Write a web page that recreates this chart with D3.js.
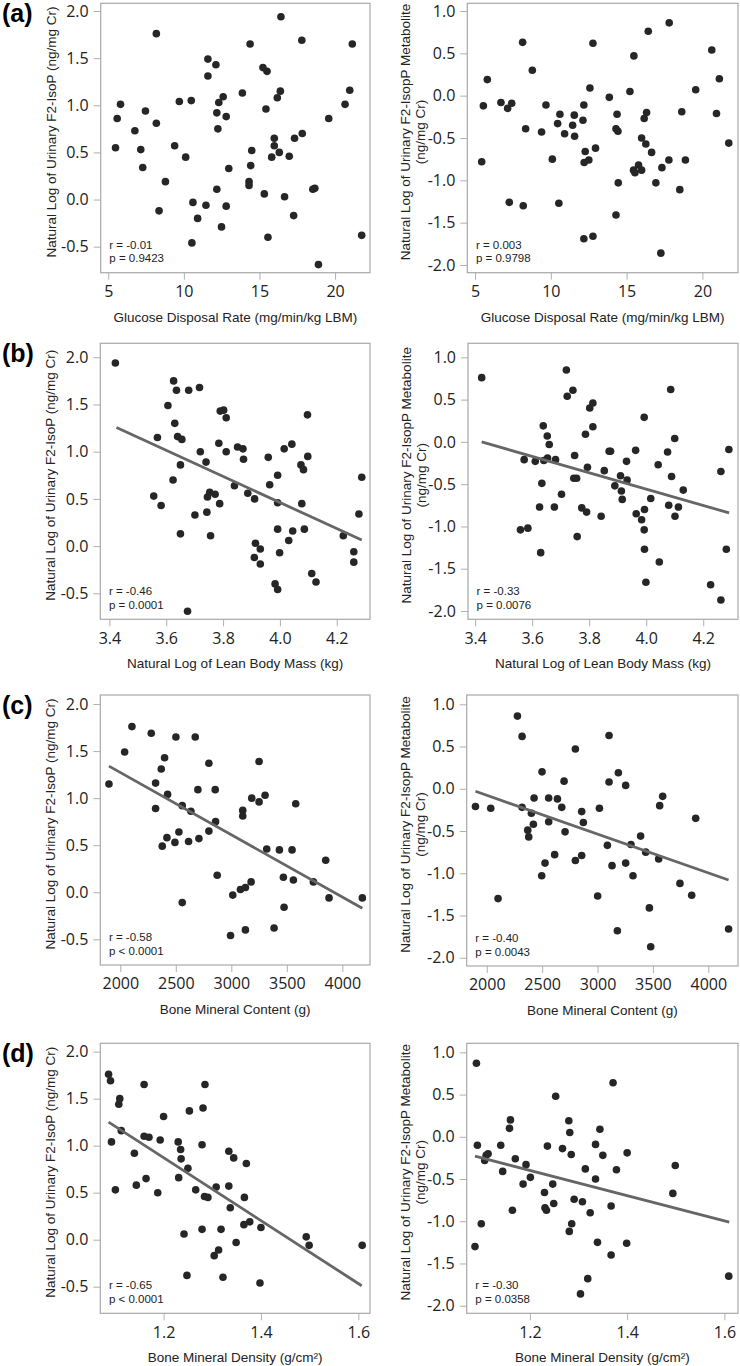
<!DOCTYPE html>
<html><head><meta charset="utf-8">
<script src="https://cdn.jsdelivr.net/npm/d3@7"></script>
<style>body{margin:0;background:#fff}</style>
</head><body><svg id="c" width="740" height="1366"></svg>
<script>
// ---------------- DATA ----------------
const rowLabels = ["(a)", "(b)", "(c)", "(d)"];
const yTitleLeft = "Natural Log of Urinary F2-IsoP (ng/mg Cr)";
const yTitleRight = ["Natural Log of Urinary F2-IsopP Metabolite", "(ng/mg Cr)"];
const xTitles = ["Glucose Disposal Rate (mg/min/kg LBM)", "Natural Log of Lean Body Mass (kg)", "Bone Mineral Content (g)", "Bone Mineral Density (g/cm\u00B2)"];
const yTicksLeft = [-0.5, 0, 0.5, 1.0, 1.5, 2.0];
const yTicksRight = [-2.0, -1.5, -1.0, -0.5, 0, 0.5, 1.0];
const xTicksA = [5, 10, 15, 20];
const xTicksB = [3.4, 3.6, 3.8, 4.0, 4.2];
const xTicksC = [2000, 2500, 3000, 3500, 4000];
const xTicksD = [1.2, 1.4, 1.6];
const statsText = [
  ["r = -0.01", "p = 0.9423"], ["r = 0.003", "p = 0.9798"],
  ["r = -0.46", "p = 0.0001"], ["r = -0.33", "p = 0.0076"],
  ["r = -0.58", "p < 0.0001"], ["r = -0.40", "p = 0.0043"],
  ["r = -0.65", "p < 0.0001"], ["r = -0.30", "p = 0.0358"]
];

// (a) left: glucose disposal vs F2-IsoP
const aL_x = [5.48,5.59,5.81,6.76,7.15,7.28,7.46,8.18,8.18,8.36,8.78,9.39,9.70,10.12,10.49,10.60,10.53,10.91,11.46,11.59,11.59,12.12,12.18,12.25,12.31,12.18,12.49,12.60,12.80,12.80,12.97,13.87,14.38,14.31,14.31,14.42,14.49,15.23,15.50,15.43,15.32,15.56,15.81,15.98,15.98,16.18,16.31,16.38,16.42,16.66,16.97,17.26,17.32,17.80,17.83,18.53,18.66,18.90,19.58,20.66,20.97,21.14,21.76];
const aL_y = [0.55,0.86,1.01,0.73,0.53,0.34,0.94,1.76,0.81,-0.12,0.19,0.57,1.04,0.45,1.05,-0.03,-0.46,-0.20,-0.06,1.49,1.31,1.43,0.92,0.75,1.03,0.11,-0.29,1.09,0.88,-0.07,0.33,1.13,1.65,0.19,0.15,0.36,0.52,1.40,1.36,0.96,0.06,-0.40,0.45,0.65,0.57,1.08,0.50,1.15,1.94,0.03,0.46,-0.17,0.65,1.69,0.70,0.11,0.12,-0.69,0.86,1.01,1.16,1.65,-0.38];
// (a) right: glucose disposal vs metabolite
const aR_x = [5.44,5.55,5.81,6.71,7.15,7.42,7.26,8.14,8.18,8.34,8.78,9.39,9.68,10.10,10.45,10.60,10.53,10.91,11.44,11.55,11.57,12.12,12.18,12.27,12.20,12.51,12.18,12.58,12.78,12.78,12.95,13.86,14.30,14.30,14.37,14.43,14.45,15.22,15.48,15.46,15.55,15.79,15.99,15.99,16.16,16.32,16.27,16.43,16.65,16.93,17.33,17.26,17.79,17.81,18.51,18.64,18.88,19.56,20.62,20.93,21.12,21.74];
const aR_y = [-0.78,-0.12,0.19,-0.08,-0.15,-0.09,-1.26,0.63,-1.30,-0.39,0.30,-0.43,-0.11,-0.75,-0.33,-0.22,-1.27,-0.45,-0.35,-0.23,-0.48,-0.29,-0.11,-0.66,-0.79,-0.76,-1.69,0.09,0.62,-1.66,-0.62,-0.02,-1.41,-0.39,-0.22,-0.42,-1.03,0.05,0.47,-0.88,-0.91,-0.82,-0.50,-0.88,-0.27,-0.20,-0.57,0.76,-0.67,-1.03,-0.85,-1.86,-0.76,0.86,-1.11,-0.19,-0.76,0.07,0.54,-0.21,0.20,-0.56];
// (b) left: ln lean body mass vs F2-IsoP
const bL_x = [3.421,3.556,3.569,3.582,3.606,3.624,3.626,3.630,3.636,3.640,3.655,3.650,3.650,3.679,3.675,3.701,3.717,3.720,3.740,3.743,3.745,3.753,3.756,3.772,3.788,3.785,3.790,3.802,3.811,3.811,3.840,3.851,3.870,3.872,3.887,3.911,3.910,3.914,3.931,3.931,3.959,3.964,3.983,3.992,3.992,3.992,3.992,3.999,4.015,4.031,4.042,4.045,4.074,4.077,4.083,4.086,4.097,4.098,4.112,4.127,4.223,4.260,4.260,4.278,4.288];
const bL_y = [1.94,0.53,1.15,0.43,1.49,0.70,1.75,1.30,1.65,1.16,1.13,0.86,0.13,1.65,-0.69,0.33,1.68,1.00,0.89,0.36,0.52,0.57,0.11,0.55,0.45,1.09,1.43,1.44,1.36,1.00,0.64,1.05,1.03,0.92,0.56,0.50,-0.12,0.03,-0.03,-0.19,0.94,0.65,-0.40,0.75,0.46,0.18,-0.46,-0.07,1.03,0.06,1.08,0.16,0.86,0.45,0.81,0.18,1.39,0.95,-0.29,-0.38,0.11,-0.06,-0.17,0.34,0.73];
const bL_fit = [[3.425, 1.257], [4.288, 0.064]];
// (b) right: ln lean body mass vs metabolite
const bR_x = [3.423,3.559,3.572,3.585,3.611,3.626,3.634,3.630,3.639,3.641,3.653,3.654,3.660,3.678,3.682,3.703,3.720,3.723,3.743,3.749,3.746,3.756,3.758,3.774,3.787,3.791,3.794,3.802,3.813,3.813,3.842,3.853,3.870,3.875,3.890,3.910,3.913,3.916,3.931,3.933,3.963,3.965,3.984,3.993,3.994,3.993,3.994,3.999,4.016,4.042,4.046,4.075,4.079,4.086,4.089,4.100,4.101,4.113,4.130,4.226,4.262,4.262,4.281,4.290];
const bR_y = [0.76,-1.04,-0.21,-1.02,-0.23,-0.77,-0.49,-1.31,0.19,-0.22,0.07,-0.19,-0.03,-0.77,-0.21,-0.62,0.85,0.54,0.61,-0.16,-0.43,-0.43,-1.12,-0.78,0.09,-0.83,-0.30,0.40,0.46,0.18,-0.88,-0.34,-0.11,-0.11,-0.52,-0.40,-0.58,-0.68,-0.23,-0.45,-0.10,-0.85,-0.92,0.29,-0.80,-1.04,-1.27,-1.66,-0.67,-0.27,-1.42,-0.12,-0.75,0.62,-0.41,0.04,-0.88,-0.77,-0.57,-1.69,-0.35,-1.87,-1.27,-0.09];
const bR_fit = [[3.423, 0.00], [4.291, -0.84]];
// (c) left: bone mineral content vs F2-IsoP
const cL_x = [1898,2039,2105,2279,2318,2318,2369,2399,2378,2426,2420,2492,2501,2528,2558,2558,2615,2636,2675,2699,2708,2798,2798,2855,2858,2873,2993,3013,3082,3103,3103,3127,3127,3178,3184,3250,3250,3304,3319,3433,3469,3475,3385,3547,3559,3580,3739,3850,3880,4180];
const cL_y = [1.15,1.49,1.76,1.69,1.16,0.89,1.31,1.43,0.49,1.04,0.58,0.53,1.65,0.64,0.92,-0.11,0.54,0.86,1.65,1.09,0.57,1.37,0.65,1.09,0.75,0.18,-0.46,-0.03,0.03,0.87,0.81,0.05,-0.40,0.11,1.00,1.39,0.96,1.03,0.46,0.45,0.16,-0.16,-0.38,0.45,0.13,0.94,0.11,0.34,-0.06,-0.06];
const cL_fit = [[1898, 1.34], [4180, -0.17]];
// (c) right: bone mineral content vs metabolite
const cR_x = [1898,2036,2102,2277,2319,2319,2370,2379,2403,2421,2427,2499,2496,2526,2559,2559,2613,2638,2677,2698,2707,2800,2800,2857,2857,2872,3001,3017,3089,3104,3104,3131,3188,3179,3254,3254,3302,3320,3389,3435,3468,3480,3552,3561,3588,3744,3850,3886,4183];
const cR_y = [-0.21,-0.23,-1.30,0.86,0.62,-0.22,-0.49,-0.57,-0.29,-0.42,-0.11,0.20,-1.03,-0.88,-0.11,-0.39,-0.78,-0.12,-0.22,0.09,-0.51,0.47,-0.85,-0.27,-0.79,-0.40,-1.27,-0.23,-0.67,0.63,0.08,-0.91,0.19,-1.68,0.04,-0.88,-0.66,-1.03,-0.56,-0.75,-1.41,-1.87,-0.83,-0.20,-0.09,-1.12,-1.26,-0.35,-1.66];
const cR_fit = [[1898, -0.03], [4183, -1.08]];
// (d) left: bone mineral density vs F2-IsoP
const dL_x = [1.087,1.091,1.093,1.101,1.108,1.110,1.113,1.140,1.144,1.160,1.160,1.164,1.170,1.188,1.193,1.200,1.230,1.231,1.235,1.236,1.242,1.248,1.250,1.253,1.266,1.279,1.279,1.281,1.284,1.285,1.291,1.304,1.308,1.313,1.318,1.322,1.334,1.334,1.337,1.344,1.349,1.365,1.366,1.370,1.377,1.400,1.398,1.493,1.499,1.608];
const dL_y = [1.76,1.69,1.04,0.53,1.44,1.50,1.16,0.92,0.58,1.65,1.10,0.65,1.09,0.50,1.06,1.31,1.04,0.66,0.96,0.86,0.06,-0.38,0.76,1.37,0.53,1.01,0.11,1.40,0.46,1.65,0.45,-0.17,0.56,-0.11,0.11,-0.40,0.94,0.57,0.34,0.87,-0.03,0.16,0.45,0.81,0.19,0.13,-0.46,0.03,-0.06,-0.06];
const dL_fit = [[1.087, 1.25], [1.607, -0.49]];
// (d) right: bone mineral density vs metabolite
const dR_x = [1.090,1.092,1.087,1.100,1.107,1.110,1.114,1.140,1.144,1.160,1.158,1.164,1.170,1.186,1.192,1.201,1.230,1.231,1.234,1.236,1.247,1.249,1.253,1.267,1.280,1.281,1.282,1.285,1.286,1.291,1.304,1.308,1.314,1.319,1.324,1.335,1.335,1.339,1.344,1.350,1.367,1.367,1.371,1.378,1.399,1.400,1.494,1.499,1.609];
const dR_y = [0.87,-0.10,-1.30,-1.03,-0.28,-0.22,-0.20,-0.10,-0.41,0.20,0.10,-0.87,-0.26,-0.56,-0.33,-0.48,-0.66,-0.84,-0.87,-0.11,-0.56,-0.79,0.48,-0.14,0.19,-1.12,0.05,-0.21,-1.03,-0.74,-1.86,-0.77,-0.38,-1.68,-0.90,-0.09,-0.50,-1.25,0.09,-0.22,-0.82,-1.40,0.64,-0.39,-1.26,-0.19,-0.67,-0.34,-1.65];
const dR_fit = [[1.087, -0.23], [1.610, -1.01]];

// ---------------- LAYOUT ----------------
const fmt1 = v => v.toFixed(1).replace("\u2212", "-");
const fmt0 = v => String(v);
const panels = [
  {row:0, side:"L", box:[100.7,370,3.3,272.7], xd:[4.50,22.31], yd:[-0.776,2.082], xt:xTicksA, xf:fmt0, xs:aL_x, ys:aL_y, fit:null},
  {row:0, side:"R", box:[467.3,738,3.3,272.7], xd:[4.49,22.35], yd:[-2.091,1.091], xt:xTicksA, xf:fmt0, xs:aR_x, ys:aR_y, fit:null},
  {row:1, side:"L", box:[100.3,370,343.3,619.3], xd:[3.368,4.317], yd:[-0.775,2.148], xt:xTicksB, xf:fmt1, xs:bL_x, ys:bL_y, fit:bL_fit},
  {row:1, side:"R", box:[468,738,343.3,619.3], xd:[3.375,4.322], yd:[-2.098,1.166], xt:xTicksB, xf:fmt1, xs:bR_x, ys:bR_y, fit:bR_fit},
  {row:2, side:"L", box:[100.3,370,695,965], xd:[1820,4249], yd:[-0.773,2.096], xt:xTicksC, xf:fmt0, xs:cL_x, ys:cL_y, fit:cL_fit},
  {row:2, side:"R", box:[466.7,738,695,966], xd:[1819,4268], yd:[-2.098,1.110], xt:xTicksC, xf:fmt0, xs:cR_x, ys:cR_y, fit:cR_fit},
  {row:3, side:"L", box:[100.3,370,1043.3,1313.3], xd:[1.070,1.624], yd:[-0.783,2.089], xt:xTicksD, xf:fmt1, xs:dL_x, ys:dL_y, fit:dL_fit},
  {row:3, side:"R", box:[466.7,738,1043.3,1313.3], xd:[1.070,1.628], yd:[-2.090,1.107], xt:xTicksD, xf:fmt1, xs:dR_x, ys:dR_y, fit:dR_fit}
];

const svg = d3.select("#c");
const TICKFONT = "'Open Sans', 'DejaVu Sans', sans-serif";
const TITLEFONT = "'Liberation Sans', Arial, sans-serif";

panels.forEach((p, i) => {
  const [x0, x1, y0, y1] = p.box;
  const x = d3.scaleLinear().domain(p.xd).range([x0, x1]);
  const y = d3.scaleLinear().domain(p.yd).range([y1, y0]);
  const g = svg.append("g");
  const yt = p.side === "L" ? yTicksLeft : yTicksRight;

  // axes
  const ax = g.append("g").attr("transform", `translate(0,${y1})`)
    .call(d3.axisBottom(x).tickValues(p.xt).tickFormat(p.xf).tickSize(7).tickPadding(6));
  const ay = g.append("g").attr("transform", `translate(${x0},0)`)
    .call(d3.axisLeft(y).tickValues(yt).tickFormat(fmt1).tickSize(7).tickPadding(5));
  [ax, ay].forEach(a => {
    a.select(".domain").remove();
    a.selectAll("line").attr("stroke", "#b0b0b0").attr("stroke-width", 1);
    a.selectAll("text").attr("fill", "#222").style("font-family", TICKFONT).style("font-size", "16px");
  });

  // frame
  g.append("rect").attr("x", x0).attr("y", y0).attr("width", x1 - x0).attr("height", y1 - y0)
    .attr("fill", "none").attr("stroke", "#a8a8a8").attr("stroke-width", 1.2);

  // points
  g.append("g").selectAll("circle").data(p.xs.map((v, k) => [v, p.ys[k]])).join("circle")
    .attr("cx", d => x(d[0])).attr("cy", d => y(d[1])).attr("r", 3.8).attr("fill", "#262626");

  // fit line
  if (p.fit) {
    g.append("path").datum(p.fit).attr("d", d3.line().x(d => x(d[0])).y(d => y(d[1])))
      .attr("stroke", "#666").attr("stroke-width", 2.8).attr("fill", "none");
  }

  // stats
  const st = g.append("text").style("font-family", TITLEFONT).style("font-size", "11.5px").attr("fill", "#222");
  st.append("tspan").attr("x", x0 + 8.6).attr("y", y1 - 24).text(statsText[i][0]);
  st.append("tspan").attr("x", x0 + 8.6).attr("y", y1 - 10.5).text(statsText[i][1]);

  // x title
  g.append("text").attr("x", (x0 + x1) / 2).attr("y", y1 + 49).attr("text-anchor", "middle")
    .style("font-family", TITLEFONT).style("font-size", "13.5px").attr("fill", "#222")
    .text(xTitles[p.row]);

  // y title
  const cy = (y0 + y1) / 2 - 6;
  if (p.side === "L") {
    g.append("text").attr("transform", `translate(${x0 - 45},${cy}) rotate(-90)`).attr("text-anchor", "middle")
      .style("font-family", TITLEFONT).style("font-size", "13.5px").attr("fill", "#222").text(yTitleLeft);
    svg.append("text").attr("x", 2).attr("y", y0 + 19).style("font-family", TITLEFONT)
      .style("font-size", "25px").style("font-weight", "bold").attr("fill", "#000").text(rowLabels[p.row]);
  } else {
    yTitleRight.forEach((t, k) => {
      g.append("text").attr("transform", `translate(${x0 - 57 + k * 15},${cy}) rotate(-90)`).attr("text-anchor", "middle")
        .style("font-family", TITLEFONT).style("font-size", "13.5px").attr("fill", "#222").text(t);
    });
  }
});
</script></body></html>
